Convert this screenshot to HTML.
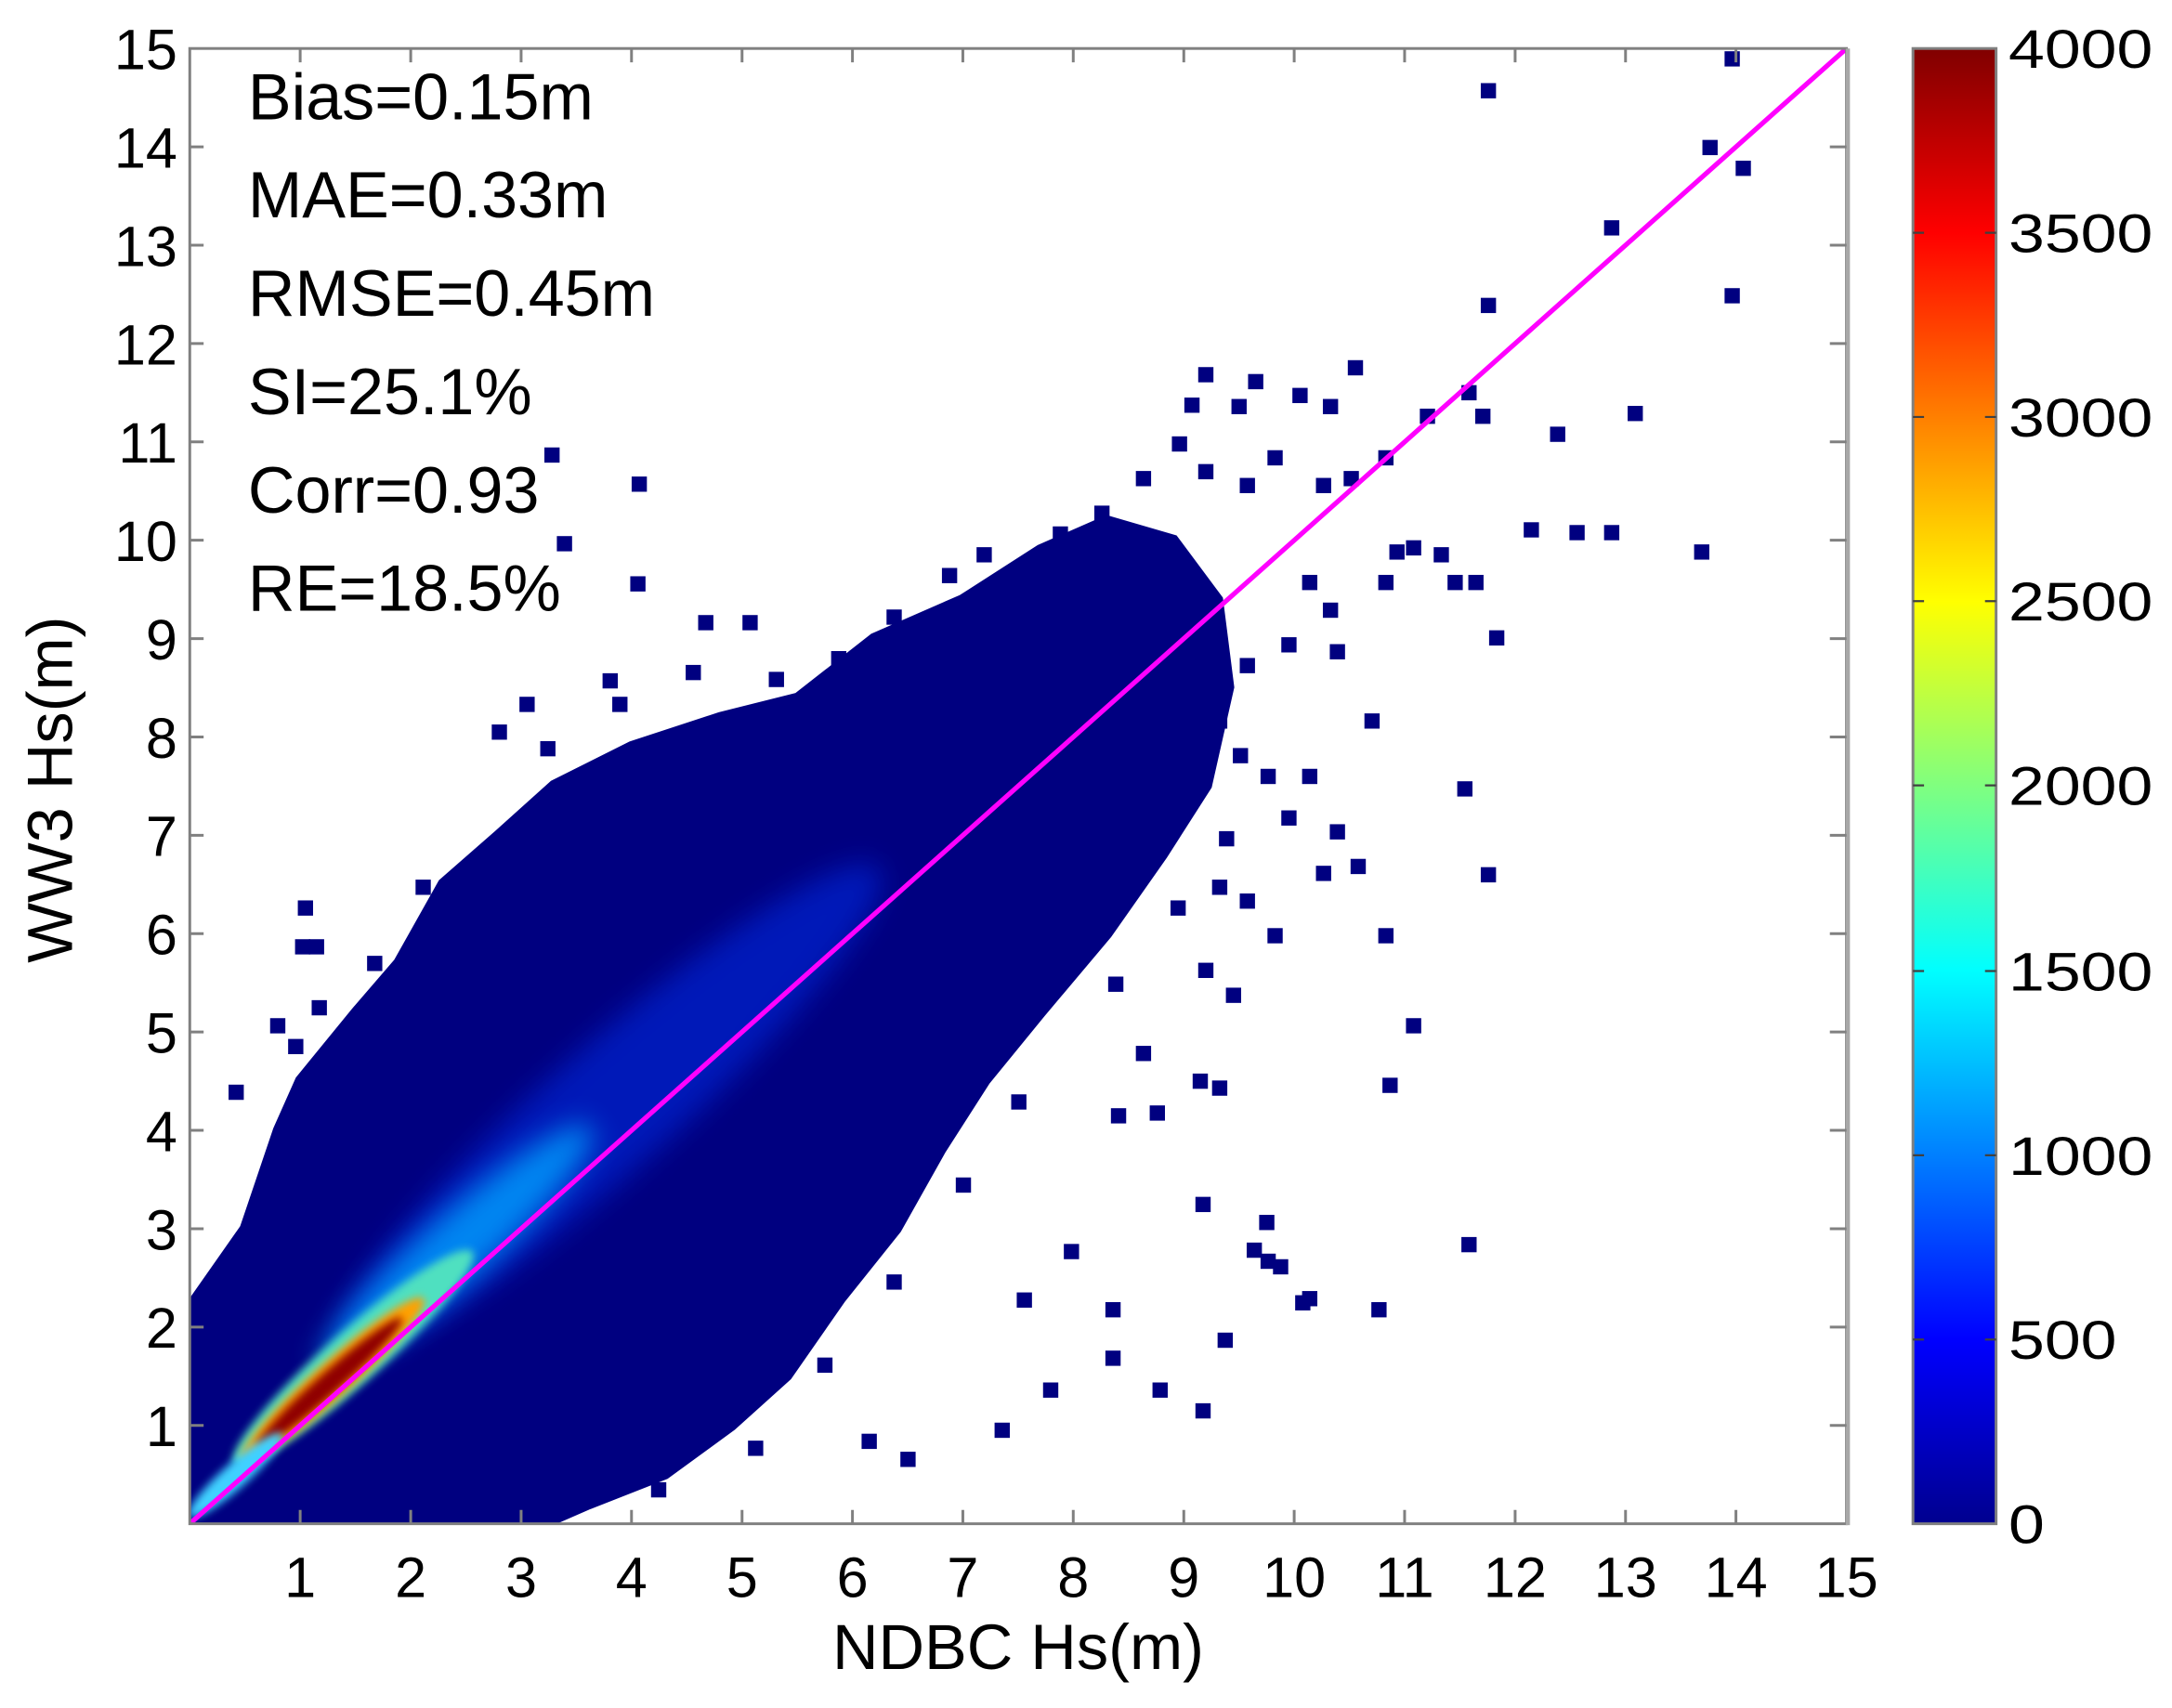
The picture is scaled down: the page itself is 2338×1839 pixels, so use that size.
<!DOCTYPE html>
<html><head><meta charset="utf-8"><style>html,body{margin:0;padding:0;background:#fff;}svg{display:block;}</style></head>
<body>
<svg width="2338" height="1839" viewBox="0 0 1568 1233" preserveAspectRatio="none" xmlns="http://www.w3.org/2000/svg" font-family="Liberation Sans, Arial, sans-serif">
<defs>
<linearGradient id="jet" x1="0" y1="0" x2="0" y2="1">
<stop offset="0" stop-color="#800000"/><stop offset="0.125" stop-color="#ff0000"/><stop offset="0.375" stop-color="#ffff00"/><stop offset="0.625" stop-color="#00ffff"/><stop offset="0.875" stop-color="#0000ff"/><stop offset="1" stop-color="#00008f"/>
</linearGradient>
<filter id="b1" x="-50%" y="-50%" width="200%" height="200%"><feGaussianBlur stdDeviation="10"/></filter>
<filter id="b2" x="-50%" y="-50%" width="200%" height="200%"><feGaussianBlur stdDeviation="5"/></filter>
<filter id="b3" x="-50%" y="-50%" width="200%" height="200%"><feGaussianBlur stdDeviation="3"/></filter>
<clipPath id="pc"><rect x="137" y="35" width="1196" height="1065"/></clipPath>
</defs>
<g clip-path="url(#pc)">
<polygon fill="#000080" stroke="#000080" stroke-width="8" points="137,1100 137,944 177,887 201,816 217,780 257,731 288,695 320,638 360,603 400,567 456,539 520,518 576,504 631,461 695,433 751,397 799,376 847,390 879,433 887,496 871,567 839,617 799,674 751,731 711,780 679,830 647,887 607,937 568,993 528,1029 480,1064 424,1086 392,1100"/>
<g fill="#000080">
<rect x="1245" y="37" width="11" height="11"/><rect x="1069" y="60" width="11" height="11"/><rect x="1229" y="101" width="11" height="11"/><rect x="1253" y="116" width="11" height="11"/><rect x="1245" y="208" width="11" height="11"/><rect x="1158" y="159" width="11" height="11"/><rect x="1069" y="215" width="11" height="11"/><rect x="1175" y="293" width="11" height="11"/><rect x="1119" y="308" width="11" height="11"/><rect x="1100" y="377" width="11" height="11"/><rect x="1133" y="379" width="11" height="11"/><rect x="1158" y="379" width="11" height="11"/><rect x="1223" y="393" width="11" height="11"/><rect x="1052" y="564" width="11" height="11"/><rect x="1069" y="626" width="11" height="11"/><rect x="1015" y="735" width="11" height="11"/><rect x="998" y="778" width="11" height="11"/><rect x="1055" y="893" width="11" height="11"/><rect x="990" y="940" width="11" height="11"/><rect x="935" y="935" width="11" height="11"/><rect x="940" y="932" width="11" height="11"/><rect x="910" y="905" width="11" height="11"/><rect x="863" y="864" width="11" height="11"/><rect x="879" y="962" width="11" height="11"/><rect x="832" y="998" width="11" height="11"/><rect x="863" y="1013" width="11" height="11"/><rect x="798" y="975" width="11" height="11"/><rect x="798" y="940" width="11" height="11"/><rect x="768" y="898" width="11" height="11"/><rect x="734" y="933" width="11" height="11"/><rect x="718" y="1027" width="11" height="11"/><rect x="753" y="998" width="11" height="11"/><rect x="650" y="1048" width="11" height="11"/><rect x="622" y="1035" width="11" height="11"/><rect x="375" y="998" width="11" height="11"/>
<rect x="215" y="650" width="11" height="11"/><rect x="393" y="323" width="11" height="11"/><rect x="402" y="387" width="11" height="11"/><rect x="456" y="344" width="11" height="11"/><rect x="455" y="416" width="11" height="11"/><rect x="504" y="444" width="11" height="11"/><rect x="536" y="444" width="11" height="11"/><rect x="495" y="480" width="11" height="11"/><rect x="442" y="503" width="11" height="11"/><rect x="435" y="486" width="11" height="11"/><rect x="355" y="523" width="11" height="11"/><rect x="375" y="503" width="11" height="11"/><rect x="390" y="535" width="11" height="11"/><rect x="195" y="735" width="11" height="11"/><rect x="213" y="678" width="11" height="11"/><rect x="223" y="678" width="11" height="11"/><rect x="225" y="722" width="11" height="11"/><rect x="208" y="750" width="11" height="11"/><rect x="165" y="783" width="11" height="11"/>
<rect x="1055" y="278" width="11" height="11"/><rect x="1065" y="295" width="11" height="11"/><rect x="1025" y="295" width="11" height="11"/><rect x="995" y="325" width="11" height="11"/><rect x="955" y="288" width="11" height="11"/><rect x="973" y="260" width="11" height="11"/><rect x="933" y="280" width="11" height="11"/><rect x="889" y="288" width="11" height="11"/><rect x="901" y="270" width="11" height="11"/><rect x="855" y="287" width="11" height="11"/><rect x="865" y="265" width="11" height="11"/><rect x="846" y="315" width="11" height="11"/><rect x="865" y="335" width="11" height="11"/><rect x="895" y="345" width="11" height="11"/><rect x="915" y="325" width="11" height="11"/><rect x="950" y="345" width="11" height="11"/><rect x="970" y="340" width="11" height="11"/><rect x="1003" y="393" width="11" height="11"/><rect x="1015" y="390" width="11" height="11"/><rect x="1035" y="395" width="11" height="11"/><rect x="1045" y="415" width="11" height="11"/><rect x="940" y="415" width="11" height="11"/><rect x="955" y="435" width="11" height="11"/><rect x="925" y="460" width="11" height="11"/><rect x="960" y="465" width="11" height="11"/><rect x="985" y="515" width="11" height="11"/><rect x="895" y="475" width="11" height="11"/><rect x="875" y="515" width="11" height="11"/><rect x="910" y="555" width="11" height="11"/><rect x="925" y="585" width="11" height="11"/><rect x="940" y="555" width="11" height="11"/><rect x="960" y="595" width="11" height="11"/><rect x="975" y="620" width="11" height="11"/><rect x="995" y="670" width="11" height="11"/><rect x="950" y="625" width="11" height="11"/><rect x="895" y="645" width="11" height="11"/><rect x="875" y="635" width="11" height="11"/><rect x="915" y="670" width="11" height="11"/><rect x="865" y="695" width="11" height="11"/><rect x="885" y="713" width="11" height="11"/><rect x="820" y="755" width="11" height="11"/><rect x="830" y="798" width="11" height="11"/><rect x="802" y="800" width="11" height="11"/><rect x="875" y="780" width="11" height="11"/><rect x="909" y="877" width="11" height="11"/><rect x="919" y="909" width="11" height="11"/><rect x="900" y="897" width="11" height="11"/><rect x="861" y="775" width="11" height="11"/><rect x="995" y="415" width="11" height="11"/><rect x="1060" y="415" width="11" height="11"/><rect x="1075" y="455" width="11" height="11"/>
<rect x="760" y="380" width="11" height="11"/><rect x="790" y="365" width="11" height="11"/><rect x="820" y="340" width="11" height="11"/><rect x="705" y="395" width="11" height="11"/><rect x="680" y="410" width="11" height="11"/><rect x="640" y="440" width="11" height="11"/><rect x="600" y="470" width="11" height="11"/><rect x="555" y="485" width="11" height="11"/><rect x="890" y="540" width="11" height="11"/><rect x="880" y="600" width="11" height="11"/><rect x="845" y="650" width="11" height="11"/><rect x="800" y="705" width="11" height="11"/><rect x="730" y="790" width="11" height="11"/><rect x="690" y="850" width="11" height="11"/><rect x="640" y="920" width="11" height="11"/><rect x="590" y="980" width="11" height="11"/><rect x="540" y="1040" width="11" height="11"/><rect x="470" y="1070" width="11" height="11"/><rect x="300" y="635" width="11" height="11"/><rect x="265" y="690" width="11" height="11"/><rect x="180" y="880" width="11" height="11"/><rect x="160" y="910" width="11" height="11"/>
</g>
<g>
<ellipse cx="440" cy="800" rx="260" ry="45" transform="rotate(-41.7 440 800)" fill="#0030f0" opacity="0.5" filter="url(#b1)"/>
<ellipse cx="330" cy="900" rx="130" ry="24" transform="rotate(-41.7 330 900)" fill="#00a0ff" opacity="0.8" filter="url(#b1)"/>
<ellipse cx="255" cy="980" rx="115" ry="19" transform="rotate(-41.7 255 980)" fill="#50e0c0" filter="url(#b3)"/>
<ellipse cx="240" cy="996" rx="88" ry="13" transform="rotate(-41.7 240 996)" fill="#ffa000" filter="url(#b3)"/>
<ellipse cx="238" cy="998" rx="70" ry="8" transform="rotate(-41.7 238 998)" fill="#900000" filter="url(#b3)"/>
<ellipse cx="170" cy="1065" rx="45" ry="9" transform="rotate(-41.7 170 1065)" fill="#40d0ff" filter="url(#b3)"/>
</g>
<line x1="137" y1="1100" x2="1333" y2="35" stroke="#ff00ff" stroke-width="3.5"/>
</g>
<g stroke="#808080" stroke-width="2" fill="none">
<rect x="137" y="35" width="1196" height="1065"/>
<line x1="1334" y1="35" x2="1334" y2="1101" stroke="#a8a8a8" stroke-width="3"/>
<path d="M216.7,1100v-10M296.5,1100v-10M376.2,1100v-10M455.9,1100v-10M535.7,1100v-10M615.4,1100v-10M695.1,1100v-10M774.8,1100v-10M854.6,1100v-10M934.3,1100v-10M1014,1100v-10M1093.8,1100v-10M1173.5,1100v-10M1253.2,1100v-10
M216.7,35v10M296.5,35v10M376.2,35v10M455.9,35v10M535.7,35v10M615.4,35v10M695.1,35v10M774.8,35v10M854.6,35v10M934.3,35v10M1014,35v10M1093.8,35v10M1173.5,35v10M1253.2,35v10
M137,1029h10M137,958h10M137,887h10M137,816h10M137,745h10M137,674h10M137,603h10M137,532h10M137,461h10M137,390h10M137,319h10M137,248h10M137,177h10M137,106h10
M1333,1029h-12M1333,958h-12M1333,887h-12M1333,816h-12M1333,745h-12M1333,674h-12M1333,603h-12M1333,532h-12M1333,461h-12M1333,390h-12M1333,319h-12M1333,248h-12M1333,177h-12M1333,106h-12"/>
</g>
<g font-size="41" fill="#000" text-anchor="end">
<text x="128" y="1044">1</text><text x="128" y="973">2</text><text x="128" y="902">3</text><text x="128" y="831">4</text><text x="128" y="760">5</text><text x="128" y="689">6</text><text x="128" y="618">7</text><text x="128" y="547">8</text><text x="128" y="476">9</text><text x="128" y="405">10</text><text x="128" y="334">11</text><text x="128" y="263">12</text><text x="128" y="192">13</text><text x="128" y="121">14</text><text x="128" y="50">15</text>
</g>
<g font-size="41" fill="#000" text-anchor="middle">
<text x="216.7" y="1153">1</text><text x="296.5" y="1153">2</text><text x="376.2" y="1153">3</text><text x="455.9" y="1153">4</text><text x="535.7" y="1153">5</text><text x="615.4" y="1153">6</text><text x="695.1" y="1153">7</text><text x="774.8" y="1153">8</text><text x="854.6" y="1153">9</text><text x="934.3" y="1153">10</text><text x="1014" y="1153">11</text><text x="1093.8" y="1153">12</text><text x="1173.5" y="1153">13</text><text x="1253.2" y="1153">14</text><text x="1333" y="1153">15</text>
<text x="735" y="1205" font-size="46">NDBC Hs(m)</text>
<text x="0" y="0" font-size="46" transform="translate(52,570) rotate(-90)">WW3 Hs(m)</text>
</g>
<g font-size="47" fill="#000">
<text x="179" y="86">Bias=0.15m</text><text x="179" y="157">MAE=0.33m</text><text x="179" y="228">RMSE=0.45m</text><text x="179" y="299">SI=25.1%</text><text x="179" y="370">Corr=0.93</text><text x="179" y="441">RE=18.5%</text>
</g>
<rect x="1381" y="35" width="60" height="1065" fill="url(#jet)" stroke="#808080" stroke-width="2"/>
<path stroke="#404040" stroke-width="1.5" d="M1381,168h8M1381,301h8M1381,434h8M1381,567h8M1381,701h8M1381,834h8M1381,967h8M1441,168h-8M1441,301h-8M1441,434h-8M1441,567h-8M1441,701h-8M1441,834h-8M1441,967h-8"/>
<g font-size="39" fill="#000" transform="translate(1450,0) scale(1.2,1)">
<text x="0" y="49">4000</text><text x="0" y="182">3500</text><text x="0" y="315">3000</text><text x="0" y="448">2500</text><text x="0" y="581">2000</text><text x="0" y="715">1500</text><text x="0" y="848">1000</text><text x="0" y="981">500</text><text x="0" y="1114">0</text>
</g>
</svg>
</body></html>
